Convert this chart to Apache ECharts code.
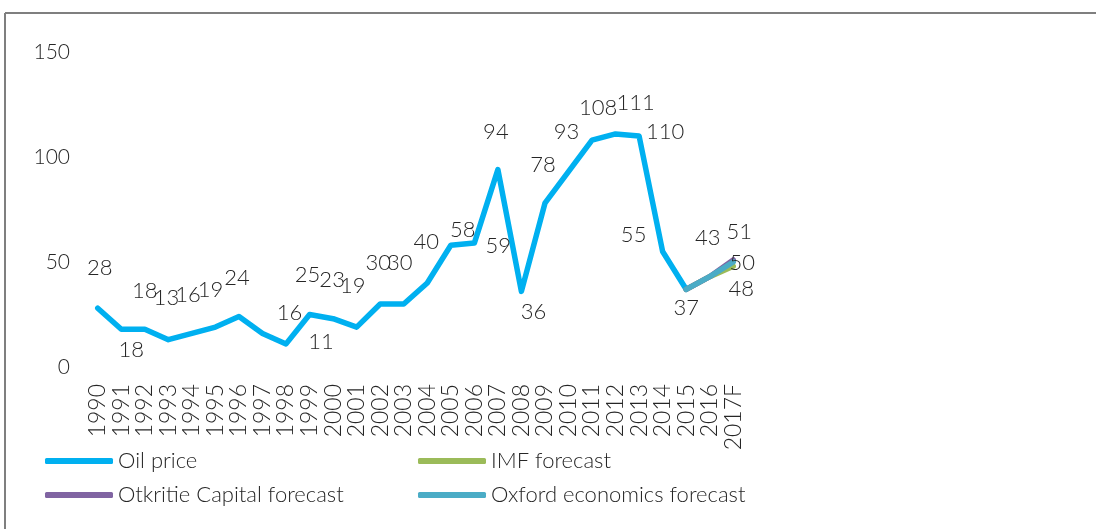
<!DOCTYPE html>
<html>
<head>
<meta charset="utf-8">
<script src="https://cdn.jsdelivr.net/npm/echarts@6/dist/echarts.min.js"></script>
<style>
html,body{margin:0;padding:0;background:#fff;}
#c{width:1096px;height:529px;}
</style>
</head>
<body>
<div id="c"></div>
<script>
var years = ['1990','1991','1992','1993','1994','1995','1996','1997','1998','1999','2000','2001','2002','2003','2004','2005','2006','2007','2008','2009','2010','2011','2012','2013','2014','2015','2016','2017F'];
var oilPrice = [28,18,18,13,16,19,24,16,11,25,23,19,30,30,40,58,59,94,36,78,93,108,111,110,55,37,null,null];
var imfForecast = [null,null,null,null,null,null,null,null,null,null,null,null,null,null,null,null,null,null,null,null,null,null,null,null,null,37,43,48];
var otkritieForecast = [null,null,null,null,null,null,null,null,null,null,null,null,null,null,null,null,null,null,null,null,null,null,null,null,null,37,43,51];
var oxfordForecast = [null,null,null,null,null,null,null,null,null,null,null,null,null,null,null,null,null,null,null,null,null,null,null,null,null,37,43,50];
var yTicks = [0,50,100,150];

// label placement (style only): offset of each label from its point
var oilLabelOffset = [[2,-40],[10,21],[0,-38],[-2,-42],[-4,-38],[-5,-37],[-2,-39],[27,-20],[35,-2],[-2,-40],[-1,-39],[-4,-41],[-2,-41],[-4,-41],[-1,-41],[12,-15],[24,3],[-2,-38],[12,21],[-2,-38],[-2,-40],[6,-32],[20,-31],[26,-4],[-29,-17],[0,19]];
var forecastLabels = {
  imf: {27:[8,23]},
  otkritie: {27:[6,-28]},
  oxford: {26:[-2,-39], 27:[9,1]}
};

var FONT = 'Lato';
var FW = 300;
var TXT = '#262626';

function buildData(values, offsets){
  return values.map(function(v,i){
    if (v === null) return null;
    var off = offsets[i];
    if (off) return {value:v, label:{show:true, position:'inside', offset:off}};
    return {value:v, label:{show:false}};
  });
}

function series(name, color, values, offsets, z){
  return {
    name:name, type:'line', data:buildData(values, offsets),
    symbol:'circle', symbolSize:1, showSymbol:true, z:z,
    connectNulls:false,
    lineStyle:{color:color, width:5.5, cap:'round', join:'round'},
    itemStyle:{color:color},
    label:{show:false, color:TXT, fontFamily:FONT, fontWeight:FW, fontSize:22, formatter:'{c}'},
    emphasis:{disabled:true},
    animation:false
  };
}

function legend(name, left, top){
  return {
    data:[name], left:left, top:top, orient:'horizontal', padding:0,
    icon:'roundRect', itemWidth:68, itemHeight:6,
    textStyle:{fontFamily:FONT, fontWeight:FW, fontSize:22, color:TXT, lineHeight:24},
    selectedMode:false
  };
}

var chart = echarts.init(document.getElementById('c'));
chart.setOption({
  backgroundColor:'#fff',
  animation:false,
  graphic:[
    {type:'line', shape:{x1:5,y1:13,x2:1096,y2:13}, style:{stroke:'#7f7f7f', lineWidth:2}},
    {type:'line', shape:{x1:5,y1:13,x2:5,y2:529}, style:{stroke:'#7f7f7f', lineWidth:2}}
  ],
  grid:{left:86, right:351, top:52, bottom:162, containLabel:false},
  legend:[
    legend('Oil price', 45, 449),
    legend('IMF forecast', 418, 449),
    legend('Otkritie Capital forecast', 45, 483),
    legend('Oxford economics forecast', 418, 483)
  ],
  xAxis:{
    type:'category', data:years, boundaryGap:true,
    axisLine:{show:false}, axisTick:{show:false}, splitLine:{show:false},
    axisLabel:{rotate:90, interval:0, margin:17, fontFamily:FONT, fontWeight:FW, fontSize:23, color:TXT}
  },
  yAxis:{
    type:'value', min:yTicks[0], max:yTicks[yTicks.length-1], interval:50,
    axisLine:{show:false}, axisTick:{show:false}, splitLine:{show:false},
    axisLabel:{margin:16, fontFamily:FONT, fontWeight:FW, fontSize:21, color:TXT}
  },
  series:[
    series('Oil price', '#00B0F0', oilPrice, oilLabelOffset, 2),
    series('IMF forecast', '#9BBB59', imfForecast, forecastLabels.imf, 3),
    series('Otkritie Capital forecast', '#8064A2', otkritieForecast, forecastLabels.otkritie, 4),
    series('Oxford economics forecast', '#4BACC6', oxfordForecast, forecastLabels.oxford, 5)
  ]
});
</script>
</body>
</html>
